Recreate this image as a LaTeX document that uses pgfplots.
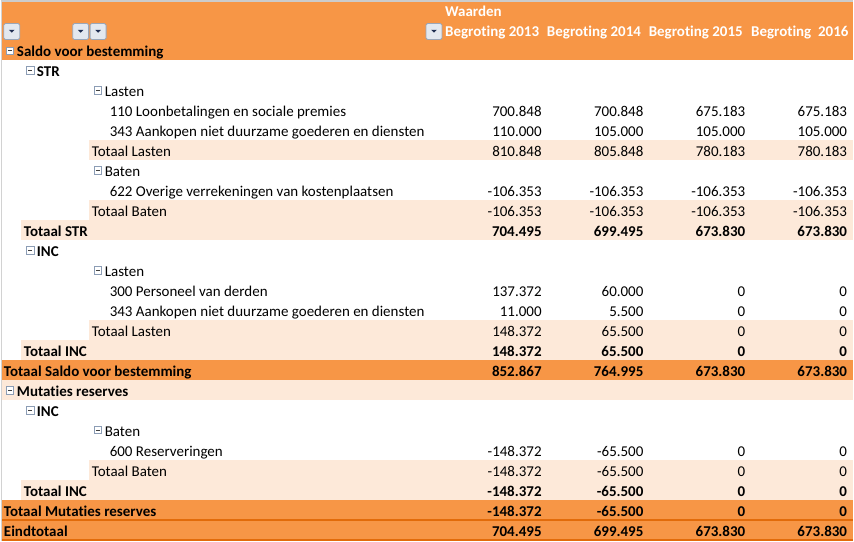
\documentclass[border=0pt]{standalone}
\usepackage{fontspec}
\setmainfont{Carlito}[Ligatures=NoCommon]
\usepackage{pgfplots}
\usepackage{pgfplotstable}
\pgfplotsset{compat=1.18}
\definecolor{hdr}{HTML}{F79646}
\definecolor{peach}{HTML}{FDE9D9}
\definecolor{dline}{HTML}{E26B0A}
\definecolor{boxb}{HTML}{8C9DB5}
\definecolor{btnb}{HTML}{9AA6B8}
\definecolor{btnf}{HTML}{E3E8EF}
\definecolor{tri}{HTML}{1F2E52}

% rows with regular numbers: baseline y, 2013, 2014, 2015, 2016
\pgfplotstableread{
y a b c d
116 700.848 700.848 675.183 675.183
136 110.000 105.000 105.000 105.000
156 810.848 805.848 780.183 780.183
196 -106.353 -106.353 -106.353 -106.353
216 -106.353 -106.353 -106.353 -106.353
296 137.372 60.000 0 0
316 11.000 5.500 0 0
336 148.372 65.500 0 0
456 -148.372 -65.500 0 0
476 -148.372 -65.500 0 0
}\normalrows
% rows with bold numbers
\pgfplotstableread{
y a b c d
236 704.495 699.495 673.830 673.830
356 148.372 65.500 0 0
376 852.867 764.995 673.830 673.830
496 -148.372 -65.500 0 0
516 -148.372 -65.500 0 0
536 704.495 699.495 673.830 673.830
}\boldrows

\newcommand{\mbx}[2]{%
  \draw[boxb, fill=white, line width=0.8pt] (axis cs:#1-3.8,#2+6.4) rectangle (axis cs:#1+3.8,#2+14.1);
  \draw[black!75, line width=1pt] (axis cs:#1-2.2,#2+10.25) -- (axis cs:#1+2.2,#2+10.25);}
\newcommand{\btn}[1]{%
  \draw[btnb, fill=btnf, rounded corners=1.5pt, line width=0.8pt] (axis cs:#1,23) rectangle (axis cs:#1+16,39);
  \fill[tri] (axis cs:#1+5.2,29.3) -- (axis cs:#1+10.8,29.3) -- (axis cs:#1+8,32.2) -- cycle;}

\begin{document}
\begin{tikzpicture}[font=\fontsize{15pt}{17pt}\selectfont]
\begin{axis}[
  scale only axis, width=854pt, height=541pt,
  xmin=0, xmax=854, ymin=0, ymax=541, y dir=reverse,
  hide axis, clip=false,
  every node near coord/.append style={anchor=base east, inner sep=0pt, text=black, font=\fontsize{15pt}{17pt}\selectfont},
]
% backgrounds
\fill[white] (axis cs:0,0) rectangle (axis cs:854,541);
\fill[hdr] (axis cs:0,0) rectangle (axis cs:854,60);
\fill[peach] (axis cs:88,140) rectangle (axis cs:854,160);
\fill[peach] (axis cs:88,200) rectangle (axis cs:854,220);
\fill[peach] (axis cs:20,220) rectangle (axis cs:854,240);
\fill[peach] (axis cs:88,320) rectangle (axis cs:854,340);
\fill[peach] (axis cs:20,340) rectangle (axis cs:854,360);
\fill[hdr] (axis cs:0,360) rectangle (axis cs:854,380);
\fill[peach] (axis cs:0,380) rectangle (axis cs:854,400);
\fill[peach] (axis cs:88,460) rectangle (axis cs:854,480);
\fill[peach] (axis cs:20,480) rectangle (axis cs:854,500);
\fill[hdr] (axis cs:0,500) rectangle (axis cs:854,541);
\draw[dline, line width=1.3pt] (axis cs:0,520.5) -- (axis cs:854,520.5);
\draw[dline, line width=1.6pt] (axis cs:0,540.2) -- (axis cs:854,540.2);
\draw[gray!40, line width=1.2pt] (axis cs:0,0.5) -- (axis cs:854,0.5);
\draw[gray!35, line width=1.2pt] (axis cs:0.5,0) -- (axis cs:0.5,541);

% header
\btn{3}\btn{72}\btn{89.5}\btn{426}
\node[anchor=base west, inner sep=0pt, text=white] at (axis cs:445,16) {\bfseries Waarden};
\node[anchor=base west, inner sep=0pt, text=white] at (axis cs:445,36) {\bfseries Begroting 2013};
\node[anchor=base west, inner sep=0pt, text=white] at (axis cs:547,36) {\bfseries Begroting 2014};
\node[anchor=base west, inner sep=0pt, text=white] at (axis cs:649,36) {\bfseries Begroting 2015};
\node[anchor=base west, inner sep=0pt, text=white] at (axis cs:751.5,36) {\bfseries Begroting\ \ 2016};

% expand/collapse boxes
\mbx{9.3}{40}\mbx{29.5}{60}\mbx{97.3}{80}\mbx{97.3}{160}
\mbx{29.5}{240}\mbx{97.3}{260}
\mbx{9.3}{380}\mbx{29.5}{400}\mbx{97.3}{420}

% row labels
\begin{scope}[every node/.style={anchor=base west, inner sep=0pt}]
\node at (axis cs:16,56.5) {\bfseries Saldo voor bestemming};
\node at (axis cs:36,76.5) {\bfseries STR};
\node at (axis cs:104,96.5) {Lasten};
\node at (axis cs:109,116.5) {110 Loonbetalingen en sociale premies};
\node at (axis cs:109,136.5) {343 Aankopen niet duurzame goederen en diensten};
\node at (axis cs:91,156.5) {Totaal Lasten};
\node at (axis cs:104,176.5) {Baten};
\node at (axis cs:109,196.5) {622 Overige verrekeningen van kostenplaatsen};
\node at (axis cs:91,216.5) {Totaal Baten};
\node at (axis cs:23,236.5) {\bfseries Totaal STR};
\node at (axis cs:36,256.5) {\bfseries INC};
\node at (axis cs:104,276.5) {Lasten};
\node at (axis cs:109,296.5) {300 Personeel van derden};
\node at (axis cs:109,316.5) {343 Aankopen niet duurzame goederen en diensten};
\node at (axis cs:91,336.5) {Totaal Lasten};
\node at (axis cs:23,356.5) {\bfseries Totaal INC};
\node at (axis cs:3,376.5) {\bfseries Totaal Saldo voor bestemming};
\node at (axis cs:16,396.5) {\bfseries Mutaties reserves};
\node at (axis cs:36,416.5) {\bfseries INC};
\node at (axis cs:104,436.5) {Baten};
\node at (axis cs:109,456.5) {600 Reserveringen};
\node at (axis cs:91,476.5) {Totaal Baten};
\node at (axis cs:23,496.5) {\bfseries Totaal INC};
\node at (axis cs:3,516.5) {\bfseries Totaal Mutaties reserves};
\node at (axis cs:3,536.5) {\bfseries Eindtotaal};
\end{scope}

% values
\addplot[draw=none, mark=none, nodes near coords, point meta=explicit symbolic] table[x expr=542, y expr=\thisrow{y}+0.5, meta=a] {\normalrows};
\addplot[draw=none, mark=none, nodes near coords, point meta=explicit symbolic] table[x expr=644, y expr=\thisrow{y}+0.5, meta=b] {\normalrows};
\addplot[draw=none, mark=none, nodes near coords, point meta=explicit symbolic] table[x expr=746, y expr=\thisrow{y}+0.5, meta=c] {\normalrows};
\addplot[draw=none, mark=none, nodes near coords, point meta=explicit symbolic] table[x expr=848, y expr=\thisrow{y}+0.5, meta=d] {\normalrows};
\addplot[draw=none, mark=none, nodes near coords, point meta=explicit symbolic, every node near coord/.append style={font=\fontsize{15pt}{17pt}\selectfont\bfseries}] table[x expr=542, y expr=\thisrow{y}+0.5, meta=a] {\boldrows};
\addplot[draw=none, mark=none, nodes near coords, point meta=explicit symbolic, every node near coord/.append style={font=\fontsize{15pt}{17pt}\selectfont\bfseries}] table[x expr=644, y expr=\thisrow{y}+0.5, meta=b] {\boldrows};
\addplot[draw=none, mark=none, nodes near coords, point meta=explicit symbolic, every node near coord/.append style={font=\fontsize{15pt}{17pt}\selectfont\bfseries}] table[x expr=746, y expr=\thisrow{y}+0.5, meta=c] {\boldrows};
\addplot[draw=none, mark=none, nodes near coords, point meta=explicit symbolic, every node near coord/.append style={font=\fontsize{15pt}{17pt}\selectfont\bfseries}] table[x expr=848, y expr=\thisrow{y}+0.5, meta=d] {\boldrows};
\end{axis}
\end{tikzpicture}
\end{document}
